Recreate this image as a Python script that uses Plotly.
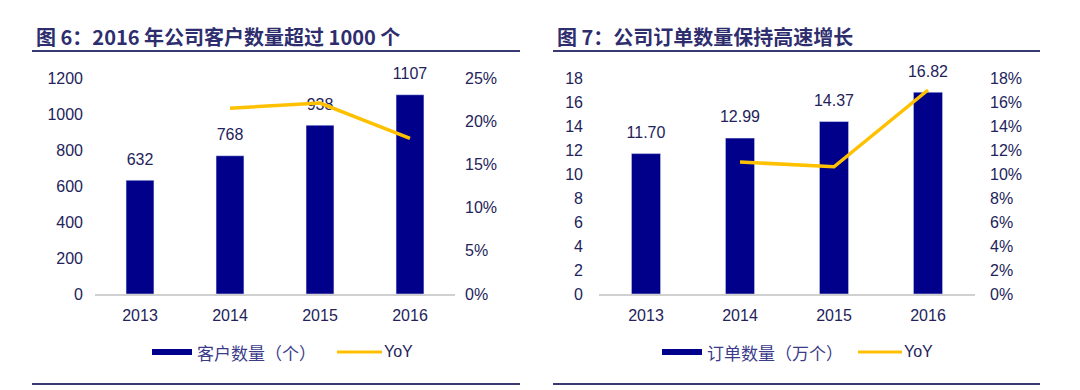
import plotly.graph_objects as go

years = ["2013", "2014", "2015", "2016"]
customers = [632, 768, 938, 1107]
customers_yoy = [None, 21.5, 22.1, 18.0]
orders = [11.70, 12.99, 14.37, 16.82]
orders_yoy = [None, 11.0, 10.6, 17.0]

title_left = "图 6：2016 年公司客户数量超过 1000 个"
title_right = "图 7：公司订单数量保持高速增长"
legend_left = "客户数量（个）"
legend_right = "订单数量（万个）"

W, H = 1080, 390
NAVY = "#00008B"
GOLD = "#FFC000"
TXT = "#23235a"
FONT = "Liberation Sans, Arial, sans-serif"
CJK = "Noto Sans CJK SC, sans-serif"

def px(x):
    return x / W

def py(y):
    return 1 - y / H

fig = go.Figure()
fig.add_trace(go.Bar(x=years, y=customers, marker_color=NAVY, width=0.31,
                     xaxis="x", yaxis="y", showlegend=False, name=legend_left))
fig.add_trace(go.Scatter(x=years, y=customers, mode="markers+text", text=[str(v) for v in customers],
                         textposition="top center", marker=dict(size=17, opacity=0),
                         textfont=dict(size=16, color=TXT, family=FONT), cliponaxis=False,
                         hoverinfo="skip", xaxis="x", yaxis="y", showlegend=False))
fig.add_trace(go.Scatter(x=years, y=customers_yoy, mode="lines", line=dict(color=GOLD, width=3.5),
                         xaxis="x", yaxis="y2", showlegend=False, name="YoY"))
fig.add_trace(go.Bar(x=years, y=orders, marker_color=NAVY, width=0.31,
                     xaxis="x2", yaxis="y3", showlegend=False, name=legend_right))
fig.add_trace(go.Scatter(x=years, y=orders, mode="markers+text", text=[f"{v:.2f}" for v in orders],
                         textposition="top center", marker=dict(size=17, opacity=0),
                         textfont=dict(size=16, color=TXT, family=FONT), cliponaxis=False,
                         hoverinfo="skip", xaxis="x2", yaxis="y3", showlegend=False))
fig.add_trace(go.Scatter(x=years, y=orders_yoy, mode="lines", line=dict(color=GOLD, width=3.5),
                         xaxis="x2", yaxis="y4", showlegend=False, name="YoY"))

ydom = [py(294), py(78)]
tickf = dict(size=16, color=TXT, family=FONT)
xcommon = dict(type="category", showline=True, linecolor="#d0d0d0", linewidth=1.5,
               ticks="", showgrid=False, tickfont=tickf, ticklabelstandoff=6,
               automargin=False, fixedrange=True)
ycommon = dict(showgrid=False, zeroline=False, tickfont=tickf, automargin=False,
               fixedrange=True, showline=False, ticks="")

fig.update_layout(
    width=W, height=H, margin=dict(l=0, r=0, t=0, b=0, pad=0),
    paper_bgcolor="white", plot_bgcolor="white", showlegend=False,
    bargap=0.69,
    xaxis=dict(domain=[px(95), px(455)], anchor="y", **xcommon),
    yaxis=dict(domain=ydom, range=[0, 1200], dtick=200, ticklabelstandoff=11, anchor="x", **ycommon),
    yaxis2=dict(domain=ydom, range=[0, 25], dtick=5, overlaying="y", side="right",
                ticksuffix="%", ticklabelstandoff=9, anchor="x", **ycommon),
    xaxis2=dict(domain=[px(599), px(975)], anchor="y3", **xcommon),
    yaxis3=dict(domain=ydom, range=[0, 18], dtick=2, ticklabelstandoff=15, anchor="x2", **ycommon),
    yaxis4=dict(domain=ydom, range=[0, 18], dtick=2, overlaying="y3", side="right",
                ticksuffix="%", ticklabelstandoff=14, anchor="x2", **ycommon),
)

shapes = []
annos = []
# titles and rules
for (x0, x1, tx, title) in [(32, 520, 34, title_left), (553, 1040, 555, title_right)]:
    annos.append(dict(x=px(tx), y=py(36), xref="paper", yref="paper", text="<b>" + title + "</b>",
                      showarrow=False, xanchor="left", yanchor="middle",
                      font=dict(size=20, color="#2e2e6e", family=CJK)))
    shapes.append(dict(type="line", xref="paper", yref="paper", x0=px(x0), x1=px(x1),
                       y0=py(51), y1=py(51), line=dict(color="#3a3a72", width=2)))
    shapes.append(dict(type="line", xref="paper", yref="paper", x0=px(x0), x1=px(x1),
                       y0=py(384), y1=py(384), line=dict(color="#3a3a72", width=2)))

# legends
for (bx0, bx1, ltxt, yx0, yx1) in [(152, 192, legend_left, 337, 382), (662, 702, legend_right, 858, 902)]:
    shapes.append(dict(type="rect", xref="paper", yref="paper", x0=px(bx0), x1=px(bx1),
                       y0=py(355), y1=py(349), fillcolor=NAVY, line=dict(width=0)))
    annos.append(dict(x=px(bx1 + 3), y=py(352), xref="paper", yref="paper", text=ltxt,
                      showarrow=False, xanchor="left", yanchor="middle",
                      font=dict(size=17, color="#3b3b8a", family=CJK)))
    shapes.append(dict(type="line", xref="paper", yref="paper", x0=px(yx0), x1=px(yx1),
                       y0=py(352), y1=py(352), line=dict(color=GOLD, width=3)))
    annos.append(dict(x=px(yx1), y=py(351), xref="paper", yref="paper", text="YoY",
                      showarrow=False, xanchor="left", yanchor="middle",
                      font=dict(size=16, color=TXT, family=FONT)))

fig.update_layout(shapes=shapes, annotations=annos)
fig.write_html("out.html", config={"displayModeBar": False},
               post_script="document.body.style.margin='0';document.body.style.overflow='hidden';")
